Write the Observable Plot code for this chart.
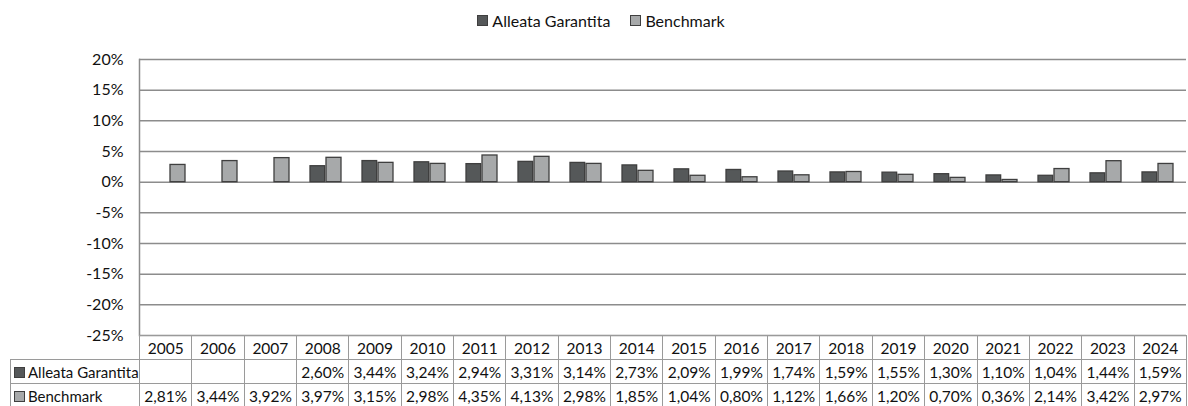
<!DOCTYPE html>
<html>
<head>
<meta charset="utf-8">
<script src="https://cdn.jsdelivr.net/npm/d3@7"></script>
<script src="https://cdn.jsdelivr.net/npm/@observablehq/plot@0.6"></script>
<style>
  html, body { margin: 0; padding: 0; background: #fff; }
  body { width: 1188px; height: 406px; position: relative; overflow: hidden; font-family: Lato, "DejaVu Sans", sans-serif; color: #111; }
  #legend { height: 40px; display: flex; justify-content: center; align-items: center; font-size: 16px; padding-left: 14px; box-sizing: border-box; }
  .item { display: flex; align-items: center; margin: 0 10px; }
  .sw { width: 9px; height: 9px; border: 1px solid #3f3f3f; margin-right: 4px; }
  #chart svg { display: block; overflow: visible; }
  #table { position: absolute; left: 10px; top: 335px; border-collapse: collapse; table-layout: fixed; font-size: 15.5px; }
  #table td { border: 1.5px solid #9a9a9a; height: 23px; padding: 0; text-align: center; white-space: nowrap; overflow: hidden; }
  #table td.lab { text-align: left; padding-left: 3px; font-size: 15px; }
  #table td.blank { border-top: none; border-left: none; }
  .lsw { display: inline-block; width: 9px; height: 9px; border: 1px solid #3f3f3f; margin-right: 3px; vertical-align: 0px; }
</style>
</head>
<body>
<div id="legend"></div>
<div id="chart"></div>
<table id="table"></table>
<script>
const years = [2005,2006,2007,2008,2009,2010,2011,2012,2013,2014,2015,2016,2017,2018,2019,2020,2021,2022,2023,2024];
const alleata = [null,null,null,2.60,3.44,3.24,2.94,3.31,3.14,2.73,2.09,1.99,1.74,1.59,1.55,1.30,1.10,1.04,1.44,1.59];
const benchmark = [2.81,3.44,3.92,3.97,3.15,2.98,4.35,4.13,2.98,1.85,1.04,0.80,1.12,1.66,1.20,0.70,0.36,2.14,3.42,2.97];
const seriesNames = ["Alleata Garantita", "Benchmark"];
const seriesColors = ["#555859", "#a7a9aa"];
const yTicks = [-25,-20,-15,-10,-5,0,5,10,15,20];

const fmt = v => v == null ? "" : v.toFixed(2).replace(".", ",") + "%";

// legend
const legend = document.getElementById("legend");
seriesNames.forEach((n, i) => {
  const it = document.createElement("div");
  it.className = "item";
  it.innerHTML = `<span class="sw" style="background:${seriesColors[i]}"></span><span>${n}</span>`;
  legend.appendChild(it);
});

const rowsA = years.map((y, i) => ({year: y, v: alleata[i]})).filter(d => d.v != null);
const rowsB = years.map((y, i) => ({year: y, v: benchmark[i]}));

const W = 1188, mL = 139, mR = 2;
const bw = (W - mL - mR) / years.length;
const pad = 11, barW = 15;

const plot = Plot.plot({
  width: W,
  height: 296,
  marginTop: 19,
  marginBottom: 1,
  marginLeft: mL,
  marginRight: mR,
  style: {fontFamily: "Lato, sans-serif", fontSize: "16px", color: "#111", overflow: "visible"},
  x: {domain: years, padding: 0, axis: null},
  y: {domain: [-25, 20], ticks: yTicks, tickFormat: d => d + "%", label: null},
  marks: [
    Plot.ruleY(yTicks, {stroke: "#8c8c8c", strokeWidth: 1.5}),
    Plot.axisY({ticks: yTicks, tickSize: 0, tickPadding: 16, tickFormat: d => d + "%", fontSize: 16, fill: "#111", label: null}),
    Plot.frame({anchor: "left", stroke: "#8c8c8c", strokeWidth: 1.5}),
    Plot.barY(rowsA, {x: "year", y: "v", fill: seriesColors[0], stroke: "#3f3f3f", strokeWidth: 1.3,
      insetLeft: pad, insetRight: bw - pad - barW}),
    Plot.barY(rowsB, {x: "year", y: "v", fill: seriesColors[1], stroke: "#3f3f3f", strokeWidth: 1.3,
      insetLeft: pad + barW + 1, insetRight: pad - 1})
  ]
});
document.getElementById("chart").appendChild(plot);

// data table
const table = document.getElementById("table");
const colg = document.createElement("colgroup");
colg.innerHTML = `<col style="width:129px">` + years.map(() => `<col style="width:${bw}px">`).join("");
table.appendChild(colg);
table.style.width = (129 + bw * years.length) + "px";
const hr = document.createElement("tr");
hr.innerHTML = `<td class="blank"></td>` + years.map(y => `<td>${y}</td>`).join("");
table.appendChild(hr);
[alleata, benchmark].forEach((arr, i) => {
  const tr = document.createElement("tr");
  tr.innerHTML = `<td class="lab"><span class="lsw" style="background:${seriesColors[i]}"></span>${seriesNames[i]}</td>` +
    arr.map(v => `<td>${fmt(v)}</td>`).join("");
  table.appendChild(tr);
});
</script>
</body>
</html>
